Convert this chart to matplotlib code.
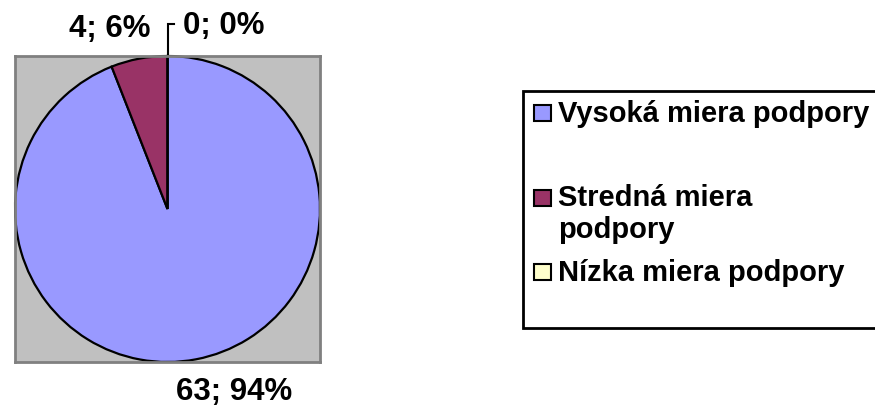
import matplotlib
matplotlib.use("Agg")
import matplotlib.pyplot as plt
from matplotlib.patches import Rectangle

categories = ["Vysoká miera podpory", "Stredná miera podpory", "Nízka miera podpory"]
legend_labels = ["Vysoká miera podpory", "Stredná miera\npodpory", "Nízka miera podpory"]
counts = [63, 4, 0]
percents = [94, 6, 0]
colors = ["#9999FF", "#993366", "#FFFFCC"]

plt.rcParams['font.family'] = ['Liberation Sans', 'DejaVu Sans']
plt.rcParams['font.weight'] = 'bold'

W, H = 875, 406
fig = plt.figure(figsize=(W / 100, H / 100), dpi=100)

def fx(px):
    return px / W

def fy(py):
    return 1 - py / H

# plot area
ax = fig.add_axes([fx(15), fy(363), fx(320) - fx(15), fy(57) - fy(363)])
ax.set_facecolor("#C0C0C0")
for s in ax.spines.values():
    s.set_color("#808080")
    s.set_linewidth(2)

wedges, _ = ax.pie(counts, colors=colors, startangle=90, counterclock=False,
                   radius=1.0, center=(0, 0),
                   wedgeprops=dict(edgecolor="black", linewidth=1.6))
ax.set_xlim(-1.0, 1.0)
ax.set_ylim(-1.0, 1.0)
ax.set_aspect('auto')
ax.set_xticks([])
ax.set_yticks([])
ax.axison = True
ax.set_frame_on(True)

label_pos = [(0.44, -1.19), (-0.38, 1.18), (0.37, 1.20)]
for (x, y), c, p in zip(label_pos, counts, percents):
    ax.text(x, y, f"{c}; {p}%", ha="center", va="center", fontsize=22.5,
            fontweight="bold", clip_on=False)

# leader line for the 0% slice
ax.plot([0, 0, 0.04], [1.0, 1.207, 1.207], color="black", lw=1.5,
        clip_on=False, solid_joinstyle="miter")

# legend box
fig.patches.append(Rectangle((fx(523), fy(329)), fx(890) - fx(523), fy(92) - fy(329),
                             transform=fig.transFigure, facecolor="white",
                             edgecolor="black", linewidth=2))
marker_y = [114, 199, 273]
text_y = [114, 214, 273]
for lab, col, my, ty in zip(legend_labels, colors, marker_y, text_y):
    fig.patches.append(Rectangle((fx(534), fy(my + 8)), fx(551) - fx(534), fy(my - 8) - fy(my + 8),
                                 transform=fig.transFigure, facecolor=col,
                                 edgecolor="black", linewidth=1.5))
    fig.text(fx(558), fy(ty), lab, ha="left", va="center", fontsize=21,
             fontweight="bold", linespacing=1.15)

fig.savefig("out.png", dpi=100)
